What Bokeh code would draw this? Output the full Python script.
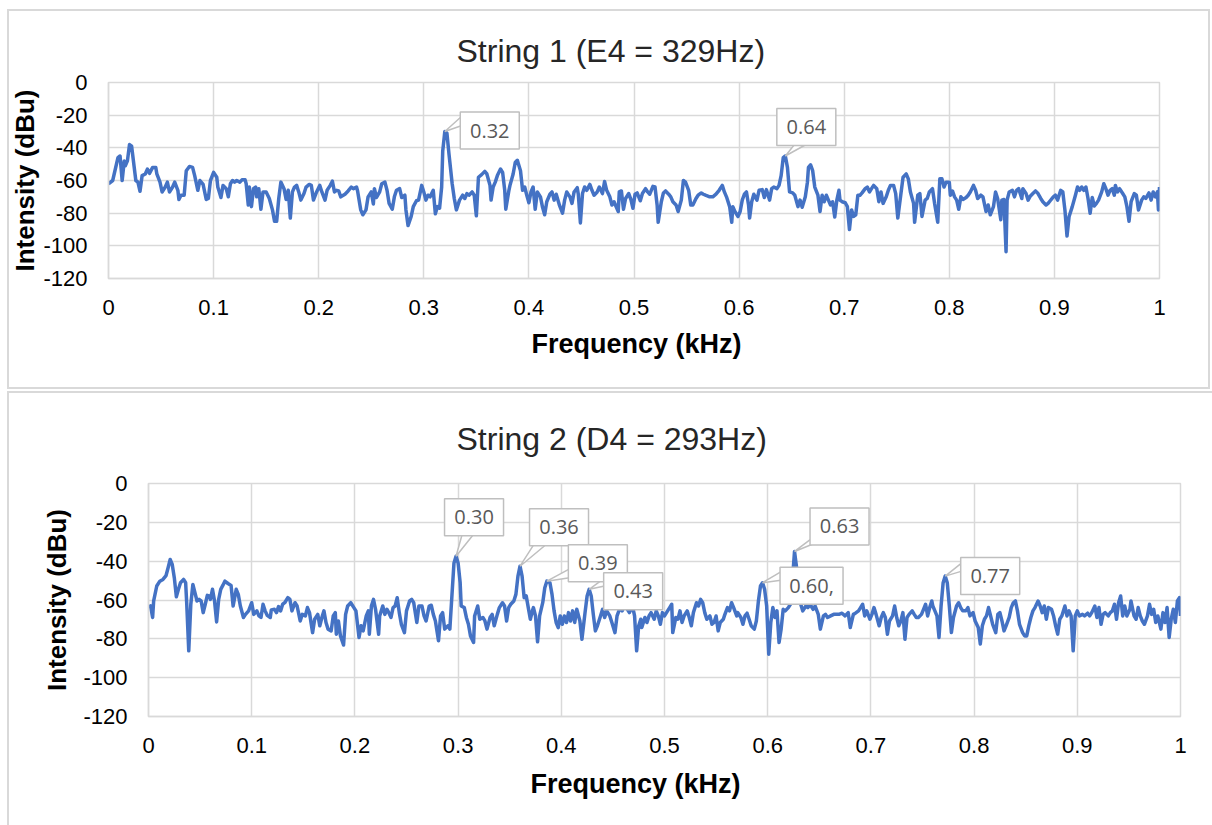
from bokeh.plotting import figure
from bokeh.models import FixedTicker, Range1d, Title
from bokeh.core.properties import value
from bokeh.embed import file_html
from bokeh.resources import INLINE

# ---------------- data ----------------
freq1 = [0.000,0.004,0.009,0.011,0.013,0.015,0.016,0.018,0.020,0.022,
0.026,0.028,0.030,0.032,0.035,0.037,0.039,0.042,0.045,0.046,
0.049,0.051,0.054,0.056,0.058,0.061,0.063,0.066,0.067,0.069,
0.072,0.074,0.077,0.080,0.082,0.085,0.087,0.090,0.093,0.095,
0.097,0.100,0.103,0.104,0.107,0.109,0.112,0.114,0.116,0.118,
0.120,0.122,0.125,0.127,0.130,0.131,0.133,0.134,0.136,0.138,
0.140,0.141,0.143,0.145,0.147,0.150,0.153,0.156,0.158,0.160,
0.162,0.164,0.167,0.169,0.171,0.173,0.175,0.177,0.179,0.181,
0.183,0.186,0.188,0.191,0.193,0.195,0.198,0.201,0.203,0.206,
0.208,0.211,0.213,0.215,0.217,0.219,0.221,0.225,0.228,0.231,
0.233,0.236,0.237,0.240,0.242,0.245,0.247,0.250,0.252,0.253,
0.255,0.258,0.260,0.263,0.265,0.267,0.270,0.272,0.274,0.277,
0.279,0.282,0.283,0.285,0.288,0.290,0.293,0.295,0.298,0.300,
0.302,0.304,0.306,0.309,0.311,0.313,0.315,0.317,0.318,0.320,
0.322,0.324,0.327,0.329,0.331,
0.334,0.337,0.339,0.341,0.343,0.346,0.348,0.350,0.352,0.355,
0.358,0.360,0.363,0.364,0.366,0.368,0.370,0.373,0.375,0.377,
0.378,0.381,0.382,0.385,0.387,0.389,0.392,0.394,0.396,0.398,
0.400,0.402,0.404,0.406,0.408,0.411,0.413,0.415,0.417,0.420,
0.422,0.424,0.426,0.429,0.432,0.434,0.436,0.439,0.441,0.443,
0.446,0.447,0.449,0.451,0.453,0.455,0.458,0.460,0.462,0.465,
0.467,0.470,0.472,0.474,0.477,0.479,0.481,0.485,0.486,0.488,
0.490,0.492,0.495,0.497,0.499,0.501,0.503,0.506,0.508,0.511,
0.513,0.515,0.518,0.520,0.522,0.523,0.526,0.528,0.530,0.533,
0.535,0.537,0.540,0.542,0.545,0.547,0.549,0.552,0.554,0.556,
0.559,0.561,0.564,0.566,0.568,0.572,0.575,0.578,0.581,0.584,
0.586,0.588,0.591,0.593,0.594,0.596,0.599,0.601,0.603,0.605,
0.607,0.609,0.610,0.612,0.614,0.617,0.619,0.622,0.624,0.626,
0.629,0.631,0.633,0.636,0.638,0.640,0.642,0.644,0.646,0.648,
0.651,0.653,0.656,0.658,0.660,0.663,0.665,
0.666,0.668,0.670,0.672,0.675,0.677,0.679,0.681,0.683,0.685,
0.687,0.689,0.691,0.693,0.695,0.696,0.698,0.701,0.703,0.705,
0.707,0.709,0.711,0.713,0.715,0.717,0.720,0.722,0.724,0.726,
0.728,0.731,0.733,0.735,0.737,0.740,0.742,0.744,0.747,0.749,
0.751,0.754,0.756,0.759,0.761,0.763,0.766,0.767,0.770,0.772,
0.774,0.777,0.779,0.781,0.784,0.786,0.789,0.791,0.793,0.795,
0.797,0.800,0.801,0.803,0.805,0.807,0.809,0.811,0.813,0.816,
0.818,0.820,0.823,0.825,0.827,0.830,0.832,0.835,0.837,0.839,
0.842,0.844,0.846,0.849,0.850,0.852,0.854,0.855,0.857,0.860,
0.862,0.864,0.866,0.869,0.870,0.873,0.875,0.877,0.880,0.882,
0.884,0.887,0.889,0.892,0.894,0.896,0.899,0.901,0.903,0.906,
0.908,0.910,0.912,0.914,0.917,0.920,0.922,0.924,0.926,0.928,
0.930,0.932,0.934,0.936,0.938,0.940,0.942,0.945,0.947,0.949,
0.951,0.953,0.955,0.957,0.958,0.960,0.962,0.965,0.967,0.969,
0.971,0.973,0.976,0.978,0.980,0.983,0.985,0.987,0.990,0.992,
0.994,0.996,0.998,0.999,1.000]

db1 = [-62,-60,-46,-45,-60,-48,-51,-48,-38,-39,
-60,-61,-66.6,-57,-56,-53,-55.6,-52,-52,-56,
-61,-67,-64,-61,-67,-64,-61,-66,-71.6,-69,
-69,-54,-51.4,-52,-57,-66,-60,-62.4,-71.6,-71,
-60,-55,-58,-64,-70.4,-63,-65,-70,-62,-60,
-61,-60,-61,-59.6,-59.6,-62,-75,-64,-76,-65,
-64,-70,-65,-77.6,-67,-67,-71,-78,-85,-85,
-71,-61,-65,-71.6,-66,-83,-67,-64,-63,-67,
-72,-68,-64,-62.4,-63,-72,-67,-63,-67,-72,
-66,-63,-60.4,-67,-66,-66.4,-70,-68.4,-66.4,-64,
-65,-64,-66.4,-78,-81,-78,-70,-67,-74.4,-65,
-70.4,-67,-62,-61,-66,-74,-77.6,-70,-66,-65,
-70.4,-69,-78,-87.6,-82,-76,-72.4,-72,-63,-67,
-72,-69,-70,-66,-80.4,-76,-77,-64,-42,-30,
-31,-44,-62,-71,-78,
-72,-69,-71,-68,-69,-67,-69,-81.6,-58,-56.4,
-54.4,-56,-63,-72,-64,-61,-57,-53,-55,-66,
-77.6,-66,-63,-56,-49,-47.6,-54,-66,-64,-69,
-73.6,-67,-64,-77.6,-67,-70,-76.4,-81,-73,-68.4,
-67,-72,-68.4,-75,-80,-72,-67,-70,-74,-67,
-64.4,-68.4,-86,-68,-64,-66,-62.4,-66,-69,-67,
-64,-68,-60.6,-66,-70,-75,-73,-79,-67,-66.4,
-77.6,-71,-68,-71.6,-77,-68.4,-67.6,-72.4,-68,-65,
-67,-68.4,-63.6,-64,-75,-85.6,-73,-67.6,-66.4,-68.4,
-70,-73,-75,-79,-72,-60,-61,-66,-75,-75,
-71,-69,-67.6,-68.4,-69,-70,-70,-68.4,-66,-63,
-67,-70,-76,-85.6,-76,-79,-82,-79,-72,-68.4,
-67,-75,-83,-73,-68.4,-72,-66,-65.6,-70.4,-65.6,
-72,-65,-64,-65,-63,-57,-46,-45,-52,-67,
-67.6,-69,-76,-72,-76.4,-70,-61,
-52,-50.4,-54,-64,-69,-79,-69,-73,-69,-72,
-75,-73,-82.4,-72,-66,-72,-73,-73.6,-76,-90,
-78,-82,-81,-69,-69,-67.6,-65,-64,-67,-65,
-63,-65,-73,-67,-74,-70,-66,-63,-63,-68,
-83,-68,-58,-56,-59,-67,-74,-85.6,-69,-68,
-82,-72,-71,-67,-65,-74,-85.6,-59,-59,-64,
-61,-61,-69,-66.4,-70,-72,-77.6,-70,-71.6,-70.4,
-69,-67,-63,-66,-71,-69,-70,-79,-75,-81,
-76,-67,-71,-84,-72,-71.6,-103.6,-72,-67,-66,
-70,-66,-65,-71,-65,-68,-72,-69.6,-67.6,-66.4,
-67.6,-71,-73,-75,-74,-72.4,-70,-69,-72,-66,
-67,-78,-94,-82,-76,-69,-64,-66,-64,-66,
-64,-71,-80,-70.4,-75.6,-74,-72,-67,-62,-65,
-69,-66,-65,-69,-63,-67,-65,-68,-70,-76,
-85,-73,-68,-69,-78,-72,-70,-71,-67.6,-72,
-67,-70,-67,-78,-64]

freq2 = [0.000,0.002,0.004,0.005,0.008,0.011,0.014,0.017,0.019,0.021,
0.023,0.025,0.027,0.029,0.031,0.034,0.036,0.037,0.039,0.041,
0.043,0.045,0.047,0.049,0.051,0.053,0.055,0.057,0.059,0.060,
0.062,0.064,0.066,0.068,0.070,0.072,0.074,0.077,0.080,0.082,
0.085,0.087,0.089,0.092,0.094,0.097,0.100,0.102,0.105,0.107,
0.109,0.111,0.113,0.115,0.118,0.119,0.122,0.124,0.126,0.128,
0.130,0.132,0.135,0.137,0.139,0.142,0.144,0.147,0.149,0.152,
0.154,0.156,0.159,0.161,0.164,0.166,0.168,0.170,0.172,0.174,
0.177,0.179,0.181,0.182,0.184,0.186,0.189,0.191,0.193,0.196,
0.199,0.201,0.204,0.206,0.208,0.211,0.213,0.214,0.216,0.218,
0.220,0.223,0.224,0.227,0.229,0.231,0.232,0.235,0.237,0.239,
0.241,0.243,0.245,0.248,0.250,0.253,0.255,0.257,0.260,0.262,
0.265,0.267,0.269,0.272,0.274,0.276,0.278,0.281,0.283,0.285,
0.287,0.290,0.292,0.294,0.296,0.298,0.300,0.302,0.303,0.306,
0.308,0.310,0.312,0.315,0.316,0.319,0.321,0.324,0.326,0.328,
0.331,0.333,0.335,
0.338,0.340,0.343,0.345,0.347,0.349,0.351,0.354,0.356,0.358,
0.360,0.362,0.364,0.366,0.368,0.370,0.372,0.373,0.375,0.377,
0.379,0.382,0.384,0.386,0.389,0.391,0.393,0.395,0.397,0.399,
0.401,0.403,0.405,0.407,0.409,0.411,0.413,0.415,0.418,0.420,
0.423,0.425,0.427,0.429,0.431,0.433,0.435,0.438,0.440,0.442,
0.444,0.447,0.449,0.452,0.454,0.457,0.459,0.461,0.464,0.466,
0.469,0.471,0.473,0.475,0.477,0.478,0.481,0.483,0.485,0.487,
0.490,0.492,0.494,0.496,0.498,0.500,0.503,0.505,0.507,0.508,
0.511,0.513,0.515,0.517,0.519,0.522,0.524,0.526,0.528,0.531,
0.533,0.535,0.537,0.539,0.541,0.544,0.546,0.548,0.550,0.552,
0.554,0.557,0.558,0.561,0.563,0.565,0.567,0.570,0.571,0.574,
0.576,0.578,0.580,0.582,0.584,0.587,0.589,0.591,0.593,0.595,
0.597,0.599,0.601,0.603,0.605,0.607,0.609,0.611,0.613,0.615,
0.617,0.620,0.622,0.624,0.626,0.628,0.630,0.632,0.634,0.637,
0.639,0.641,0.644,0.646,0.649,0.651,0.654,0.656,0.658,0.661,
0.664,
0.669,0.672,0.675,0.678,0.680,0.683,0.685,0.688,0.690,0.692,
0.694,0.696,0.699,0.701,0.703,0.705,0.708,0.710,0.712,0.714,
0.716,0.718,0.721,0.723,0.725,0.727,0.729,0.731,0.733,0.735,
0.737,0.740,0.742,0.744,0.746,0.749,0.751,0.753,0.755,0.757,
0.759,0.760,0.762,0.764,0.766,0.768,0.770,0.772,0.774,0.776,
0.778,0.780,0.783,0.785,0.787,0.789,0.792,0.794,0.796,0.799,
0.801,0.804,0.806,0.808,0.810,0.812,0.814,0.816,0.818,0.821,
0.823,0.825,0.827,0.829,0.831,0.834,0.836,0.838,0.840,0.842,
0.844,0.847,0.849,0.851,0.853,0.855,0.857,0.859,0.862,0.864,
0.866,0.868,0.870,0.872,0.875,0.877,0.879,0.881,0.883,0.885,
0.888,0.890,0.892,0.894,0.896,0.898,0.900,0.902,0.905,0.907,
0.910,0.912,0.914,0.917,0.919,0.921,0.923,0.925,0.927,0.930,
0.932,0.934,0.936,0.938,0.940,0.942,0.944,0.946,0.948,0.951,
0.952,0.955,0.957,0.959,0.961,0.963,0.965,0.968,0.970,0.972,
0.974,0.976,0.978,0.981,0.983,0.985,0.987,0.989,0.991,0.993,
0.995,0.997,0.999,1.000]

db2 = [-63.9,-63,-69,-60.5,-52.8,-50.3,-49.4,-47.4,-43.4,-39.1,
-41.7,-48.5,-58.3,-54.5,-51.1,-49.4,-51.1,-61.4,-86.2,-62.2,
-52,-56.2,-60.5,-59.7,-60.5,-66.5,-62.2,-57.6,-57.9,-59.7,
-54.5,-60.5,-71.3,-59.7,-54.5,-52.5,-50.3,-51.5,-52.5,-63.1,
-54.5,-57.1,-63.1,-69,-67.4,-65.6,-61.4,-67.4,-65.6,-68.2,
-69,-62.2,-65.6,-67.9,-69,-65.1,-64.8,-66.5,-63.4,-65.6,
-62.2,-61.4,-58.8,-59.7,-65.6,-61.4,-63.1,-70.8,-67.4,-68.2,
-63.9,-66.5,-76.8,-69.9,-67.4,-73.3,-69,-65.6,-71.6,-75,
-75.9,-68.2,-66.5,-77.6,-70.8,-78.5,-83.2,-67.4,-63.1,-61.4,
-63.9,-65.6,-79.3,-73.3,-75.9,-68.2,-65.6,-77.6,-63.1,-59.7,
-64.8,-77.6,-68.2,-63.1,-67.4,-64.8,-65.6,-69,-63.9,-63.1,
-58.8,-66.5,-72.5,-76.8,-65.6,-60.5,-59.7,-61.4,-71.6,-63.1,
-63.1,-68.2,-70.8,-63.1,-62.7,-67.4,-70.8,-81,-68.2,-66.5,
-75,-73.3,-75,-57.9,-40.9,-37.5,-40.9,-51.1,-63.1,-63.9,
-69,-72.5,-78.5,-81.9,-68.2,-63.1,-69.9,-69,-70.8,-75,
-69,-67.4,-73.3,
-67.4,-63.9,-61.4,-63.1,-70.8,-63.9,-62.2,-60.5,-57.1,-47.7,
-42.6,-47.7,-58.8,-57.9,-63.9,-69.9,-65.6,-63.9,-68.2,-81.5,
-68.2,-61.4,-53.7,-50.3,-51.1,-57.1,-65.6,-71.6,-74.2,-68.2,
-72.5,-68.2,-71.6,-66.5,-70.8,-65.6,-71.6,-64.8,-70.8,-80.2,
-66.5,-57.9,-54.5,-57.9,-67.4,-75.9,-73.3,-68.2,-64.8,-69,
-65.6,-68.2,-71.6,-76.8,-68.2,-63.9,-65.6,-63.1,-64.8,-66.5,
-63.1,-68.2,-86.2,-73.3,-69.9,-74.2,-69,-71.6,-68.2,-66.5,
-69.9,-65.6,-68.2,-72.5,-66.5,-68.2,-65.6,-63.9,-62.2,-76.8,
-69,-69.9,-65.6,-71.6,-68.2,-65.6,-69,-73.3,-66.5,-61.4,
-63.1,-59.7,-61.4,-66.5,-69.9,-68.2,-72.5,-71.6,-68.2,-75.9,
-71.6,-69.9,-68.2,-63.9,-65.6,-61.4,-63.9,-68.2,-66.5,-69,
-72.5,-68.2,-66.8,-69.9,-73.3,-75,-70.8,-60.5,-52.8,-51.1,
-54.5,-63.1,-87.9,-71.6,-63.9,-69,-65.6,-81.9,-75,-64.8,
-65.6,-63.9,-62.2,-49.4,-35,-43.4,-53.7,-62.2,-65.6,-63.1,
-63.9,-62.2,-64.8,-63.1,-67.4,-75,-68.2,-67.4,-69,-68.2,
-67.4,
-67.4,-66.8,-68.2,-66.5,-74.2,-67.4,-66.8,-65.6,-63.9,-62.2,
-68.2,-65.6,-69.9,-67.4,-63.9,-67.4,-73.3,-69,-66.5,-69,
-77.6,-70.8,-68.2,-63.1,-69,-73.3,-70.8,-66.5,-80.2,-69,
-67.4,-65.6,-67.4,-69,-69,-67.4,-64.8,-62.2,-68.2,-63.9,
-60.5,-63.1,-65.6,-68.2,-79.3,-63.1,-51.1,-47.7,-51.1,-63.1,
-76.8,-69,-63.1,-61.4,-63.9,-65.6,-65.6,-63.9,-68.2,-66.5,
-70.8,-74.2,-82.7,-73.3,-69.9,-68.2,-63.9,-68.2,-72.5,-76.8,
-67.4,-66.5,-70.8,-75.9,-73.3,-69,-63.9,-61.4,-60.5,-65.6,
-72.5,-76.8,-78.5,-78.5,-73.3,-69,-65.6,-63.9,-60.5,-63.1,
-66.5,-63.1,-69.9,-63.9,-64.8,-68.2,-73.3,-77.6,-69.9,-68.2,
-63.1,-68.2,-65.6,-68.2,-86.2,-68.2,-65.6,-68.2,-67.4,-68.2,
-66.8,-68.2,-66.5,-63.1,-69,-63.9,-72.5,-67.4,-66.5,-68.2,
-66.5,-65.6,-62.2,-69.9,-61.4,-57.9,-68.2,-63.1,-68.2,-64.8,
-60.5,-68.2,-69.9,-63.9,-68.2,-70.8,-72.5,-68.2,-62.2,-67.4,
-64.8,-71.6,-68.2,-75,-66.5,-71.6,-63.9,-79.3,-69.9,-64.8,
-71.6,-60.5,-58.8,-68.2]

x_ticks = [0, 0.1, 0.2, 0.3, 0.4, 0.5, 0.6, 0.7, 0.8, 0.9, 1]
x_tick_labels = ["0", "0.1", "0.2", "0.3", "0.4", "0.5", "0.6", "0.7", "0.8", "0.9", "1"]
y_ticks = [-120, -100, -80, -60, -40, -20, 0]
y_tick_labels = ["-120", "-100", "-80", "-60", "-40", "-20", "0"]

title1 = "String 1 (E4 = 329Hz)"
title2 = "String 2 (D4 = 293Hz)"
x_title = "Frequency (kHz)"
y_title = "Intensity (dBu)"

callout1_freq = [0.320, 0.644]
callout1_text = ["0.32", "0.64"]
callout2_freq = [0.298, 0.360, 0.386, 0.427, 0.595, 0.626, 0.772]
callout2_text = ["0.30", "0.36", "0.39", "0.43", "0.60,", "0.63", "0.77"]

# ---------------- styles (screen px offsets of callout boxes / tails, box sizes) ----------------
callout1_box = [(45, 1), (21, 29)]
callout1_size = [(59, 37), (59, 37)]
callout1_tail = [((-25, 17), (-25, 6)), ((-9, -14), (6, -14))]
callout2_box = [(18, 39), (39, 39), (51, 18), (44, -2), (49, -3), (45, 25), (45, 0)]
callout2_size = [(59, 37), (59, 37), (59, 37), (59, 37), (63, 37), (59, 37), (59, 37)]
callout2_tail = [((-11, -14), (2, -14)), ((-23, -14), (-9, -14)), ((-25, -4), (-25, -14)),
                 ((-25, 16), (-25, 6)), ((-27, 16), (-27, 6)), ((-25, -10), (-18, -14)),
                 ((-25, 16), (-25, 6))]

LINE = "#4472C4"
GRID = "#d9d9d9"
BOXLINE = "#bfbfbf"
FONT = "Liberation Sans"


def nearest(fs, f):
    best = 0
    for i, v in enumerate(fs):
        if abs(v - f) < abs(fs[best] - f):
            best = i
    return best


def panel(title, freqs, dbs, cfreq, ctext, cbox, csize, ctail, W, H, ml, mr, mt, mb,
          title_standoff, title_offset, ylab_standoff, xlab_offset, xlab_standoff, margin, shadow):
    p = figure(width=W, height=H, x_range=Range1d(0, 1), y_range=Range1d(-120, 0),
               output_backend="svg", toolbar_location=None,
               min_border_left=ml, min_border_right=mr, min_border_top=mt, min_border_bottom=mb)
    p.margin = margin
    p.border_fill_color = None
    p.background_fill_color = "white"
    p.styles = {"box-shadow": shadow}
    p.outline_line_color = GRID
    p.outline_line_width = 1.5

    p.title.text = title
    p.title.align = "left"
    p.title.offset = title_offset
    p.title.text_font = FONT
    p.title.text_font_size = "32px"
    p.title.text_font_style = "normal"
    p.title.text_color = "#262626"
    p.title.standoff = title_standoff

    p.xaxis.ticker = FixedTicker(ticks=x_ticks)
    p.xaxis.major_label_overrides = dict(zip(x_ticks, x_tick_labels))
    p.yaxis.ticker = FixedTicker(ticks=y_ticks)
    p.yaxis.major_label_overrides = dict(zip(y_ticks, y_tick_labels))
    p.xgrid.ticker = FixedTicker(ticks=x_ticks)
    p.ygrid.ticker = FixedTicker(ticks=y_ticks)
    for g in (p.xgrid, p.ygrid):
        g.grid_line_color = GRID
        g.grid_line_width = 1.5
    for ax in (p.xaxis, p.yaxis):
        ax.axis_line_color = GRID
        ax.axis_line_width = 1.5
        ax.major_tick_line_color = None
        ax.minor_tick_line_color = None
        ax.major_tick_out = 0
        ax.major_tick_in = 0
        ax.major_label_text_font = FONT
        ax.major_label_text_font_size = "22px"
        ax.major_label_text_color = "black"
        ax.axis_label_text_font = FONT
        ax.axis_label_text_font_style = "bold"
        ax.axis_label_text_color = "black"
    p.yaxis.axis_label_text_font_size = "26px"
    p.yaxis.axis_label = y_title
    p.xaxis.major_label_standoff = 21
    p.yaxis.major_label_standoff = 21
    p.yaxis.axis_label_standoff = ylab_standoff

    # x-axis title as a left-aligned title below the axis, shifted to its place
    p.add_layout(Title(text=x_title, align="left", offset=xlab_offset, standoff=xlab_standoff,
                       text_font=FONT, text_font_size="27px", text_font_style="bold",
                       text_color="black"), "below")

    fw = W - ml - mr
    fh = H - mt - mb
    pxx = fw / 1.0
    pxy = fh / 120.0

    p.line(freqs, dbs, line_color=LINE, line_width=3.5, line_join="round")

    txs, tys, bxs, bys, bws, bhs, texts = [], [], [], [], [], [], []
    for f, t, (dx, dy), (w, h), (t1, t2) in zip(cfreq, ctext, cbox, csize, ctail):
        i = nearest(freqs, f)
        x0, y0 = freqs[i], dbs[i]
        bx = x0 + dx / pxx
        by = y0 + dy / pxy
        txs.append([x0, bx + t1[0] / pxx, bx + t2[0] / pxx])
        tys.append([y0, by + t1[1] / pxy, by + t2[1] / pxy])
        bxs.append(bx)
        bys.append(by)
        bws.append(w)
        bhs.append(h)
        texts.append(t)
    p.patches(txs, tys, fill_color="white", line_color=BOXLINE, line_width=1.5)
    p.rect(bxs, bys, width=bws, height=bhs, width_units="screen", height_units="screen",
           fill_color="white", line_color=BOXLINE, line_width=1.5)
    p.text(bxs, bys, text=texts, text_align="center", text_baseline="middle",
           text_font=value("Open Sans"), text_font_size="20px", text_color="#595959")
    return p


p1 = panel(title1, freq1, db1, callout1_freq, callout1_text, callout1_box, callout1_size,
           callout1_tail, W=1203, H=380, ml=100, mr=51, mt=73, mb=111,
           title_standoff=27, title_offset=348, ylab_standoff=0,
           xlab_offset=423, xlab_standoff=19,
           margin=(9, 0, 0, 7), shadow="inset 0 0 0 2px #d9d9d9")
p2 = panel(title2, freq2, db2, callout2_freq, callout2_text, callout2_box, callout2_size,
           callout2_tail, W=1205, H=434, ml=141, mr=32, mt=92, mb=109,
           title_standoff=54, title_offset=308, ylab_standoff=8,
           xlab_offset=382, xlab_standoff=22,
           margin=(2, 0, 0, 7), shadow="inset 2px 2px 0 0 #d9d9d9")

open("out.html", "w").write(file_html([p1, p2], INLINE))
